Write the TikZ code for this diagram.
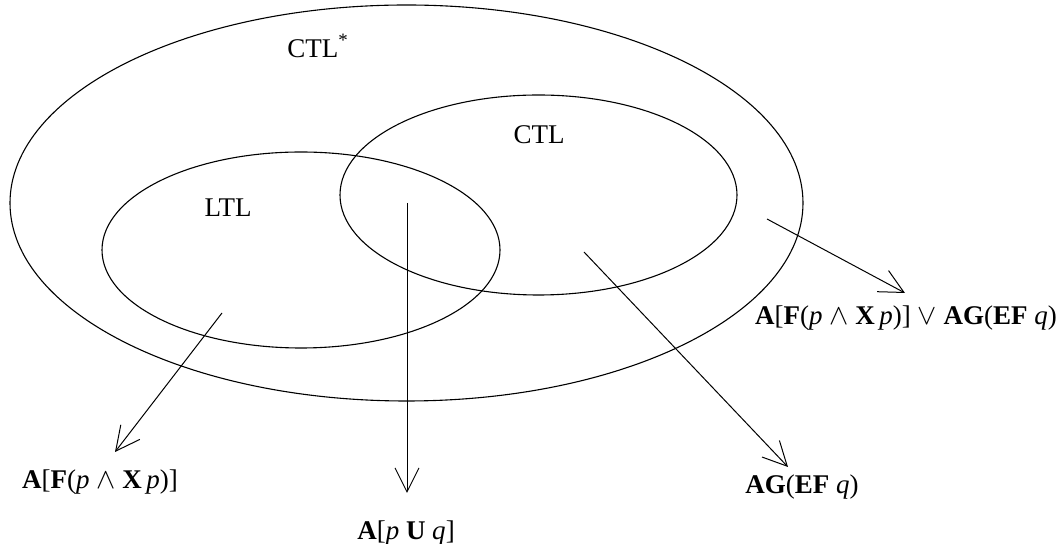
\documentclass[tikz,border=0pt]{standalone}
\usepackage{fontspec}
\setmainfont{Liberation Serif}
\usetikzlibrary{arrows.meta}

\tikzset{
  setline/.style={line width=0.55pt},
  implarrow/.style={line width=0.5pt, -{Straight Barb[length=12pt, width=12pt, line width=0.5pt]}},
  lbl/.style={inner sep=0pt, font=\fontsize{13.5}{16}\selectfont}
}
\newcommand{\tbf}[1]{\textbf{#1}}

\begin{document}
\begin{tikzpicture}[x=0.5pt, y=-0.5pt]
\useasboundingbox (0,0) rectangle (1062,544);

% the three classes of formulas
\draw[setline] (406.5,203) ellipse [x radius=198.25pt, y radius=99pt];
\draw[setline] (538.5,195) ellipse [x radius=99.25pt, y radius=50pt];
\draw[setline] (301,250) ellipse [x radius=99.5pt, y radius=49pt];

\node[lbl] (ctlstar) at (318,46) {CTL\textsuperscript{*}};
\node[lbl] (ctl) at (539,135) {CTL};
\node[lbl] (ltl) at (228,208) {LTL};

% example formulas
\node[lbl] (fltl) at (100,482) {\tbf{A}[\tbf{F}(\textit{p} $\wedge$ \tbf{X}\,\textit{p})]};
\node[lbl] (fboth) at (406,533) {\tbf{A}[\textit{p} \tbf{U} \textit{q}]};
\node[lbl] (fctl) at (802,487) {\tbf{AG}(\tbf{EF} \textit{q})};
\node[lbl] (fstar) at (906,318) {\tbf{A}[\tbf{F}(\textit{p} $\wedge$ \tbf{X}\,\textit{p})] $\vee$ \tbf{AG}(\tbf{EF} \textit{q})};

\coordinate (sltl) at (222,313);   \coordinate (tltl) at (115,452);
\coordinate (sboth) at (407,203);  \coordinate (tboth) at (407,493);
\coordinate (sctl) at (584,252);   \coordinate (tctl) at (788,467);
\coordinate (sstar) at (767,219);  \coordinate (tstar) at (905,293);

\draw[implarrow] (sltl) -- (tltl);
\draw[implarrow] (sboth) -- (tboth);
\draw[implarrow] (sctl) -- (tctl);
\draw[implarrow] (sstar) -- (tstar);
\end{tikzpicture}
\end{document}
